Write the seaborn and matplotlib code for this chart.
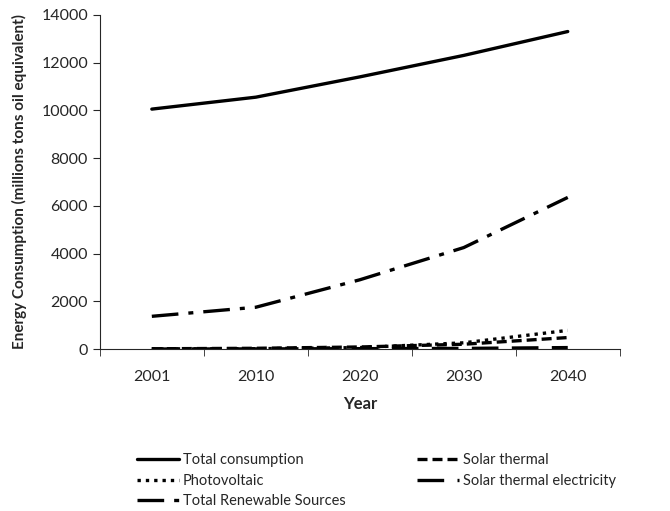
import numpy as np
import pandas as pd
import matplotlib
matplotlib.use("Agg")
import matplotlib.pyplot as plt
import seaborn as sns

sns.set_style("ticks")
plt.rcParams['font.family'] = ['Lato', 'DejaVu Sans']

# データ
years = ['2001', '2010', '2020', '2030', '2040']
total_consumption = [10050, 10550, 11400, 12300, 13300]
solar_thermal = [10, 30, 85, 200, 480]
photovoltaic = [5, 12, 60, 260, 780]
solar_thermal_elec = [0, 5, 15, 25, 60]
total_renewable = [1370, 1750, 2900, 4250, 6350]

series = {
    'Total consumption': total_consumption,
    'Photovoltaic': photovoltaic,
    'Total Renewable Sources': total_renewable,
    'Solar thermal': solar_thermal,
    'Solar thermal electricity': solar_thermal_elec,
}
rows = []
for name, vals in series.items():
    for y, v in zip(years, vals):
        rows.append({'Year': y, 'value': v, 'series': name})
df = pd.DataFrame(rows)

dashes = {
    'Total consumption': '',
    'Photovoltaic': (1, 1.5),
    'Total Renewable Sources': (8, 3, 1.5, 3),
    'Solar thermal': (3, 1.5),
    'Solar thermal electricity': (8, 4),
}
palette = {k: 'black' for k in series}

fig = plt.figure(figsize=(6.7, 5.11), dpi=100)
ax = fig.add_axes([0.149, 0.317, 0.776, 0.654])
sns.lineplot(data=df, x='Year', y='value', hue='series', style='series',
             palette=palette, dashes=dashes, linewidth=2.4, ax=ax,
             sort=False, legend='full')

ax.set_xlim(-0.5, 4.5)
ax.set_ylim(0, 14000)
ax.set_yticks(np.arange(0, 14001, 2000))
ax.set_xticks(range(len(years)))
ax.set_xticklabels(years)
ax.set_xticks(np.arange(-0.5, 4.6, 1), minor=True)
ax.tick_params(axis='x', which='major', length=0, pad=15, labelsize=11.5)
ax.tick_params(axis='x', which='minor', length=5, direction='out')
ax.tick_params(axis='y', length=5, labelsize=11.5)
ax.set_xlabel('Year', fontsize=12, fontweight='bold', labelpad=9)
ax.set_ylabel('Energy Consumption (millions tons oil equivalent)', fontsize=11,
              fontweight='bold', labelpad=10)
sns.despine(ax=ax)

handles, labels = ax.get_legend_handles_labels()
ax.get_legend().remove()
leg_kw = dict(loc='upper left', frameon=False, fontsize=10.5, handlelength=2.9,
              handletextpad=0.25, labelspacing=0.45, borderpad=0, borderaxespad=0)
fig.legend(handles[:3], labels[:3], bbox_to_anchor=(0.204, 0.113), **leg_kw)
fig.legend(handles[3:], labels[3:], bbox_to_anchor=(0.622, 0.113), **leg_kw)

plt.savefig('out.png', dpi=100)
